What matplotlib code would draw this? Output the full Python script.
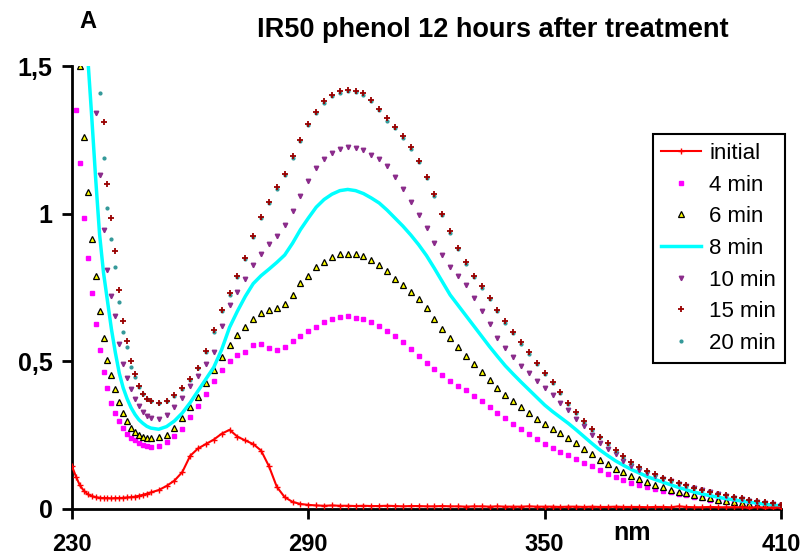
import matplotlib
matplotlib.use("Agg")
import matplotlib.pyplot as plt

# wavelengths: 1 nm steps on the steep edge, 2 nm after that
wavelength = list(range(230, 251)) + list(range(252, 411, 2))

initial = [0.145, 0.11, 0.08, 0.062, 0.05, 0.044, 0.04, 0.038, 0.037, 0.037, 0.036,
           0.037, 0.037, 0.038, 0.039, 0.04, 0.042, 0.045, 0.048, 0.052, 0.056,
           0.064, 0.078, 0.096, 0.125, 0.18, 0.205, 0.22, 0.235, 0.255, 0.268,
           0.245, 0.232, 0.22, 0.198, 0.145, 0.075, 0.04, 0.024, 0.017, 0.014,
           0.012, 0.011, 0.012, 0.011, 0.011, 0.010, 0.011, 0.010, 0.010, 0.011,
           0.010, 0.009, 0.010, 0.010, 0.009, 0.009, 0.010, 0.009, 0.009, 0.008,
           0.009, 0.009, 0.008, 0.009, 0.008, 0.008, 0.008, 0.009, 0.008, 0.008,
           0.008, 0.007, 0.008, 0.008, 0.007, 0.008, 0.007, 0.007, 0.008, 0.007,
           0.007, 0.007, 0.006, 0.007, 0.007, 0.006, 0.009, 0.007, 0.006, 0.006,
           0.007, 0.006, 0.006, 0.006, 0.006, 0.005, 0.006, 0.005, 0.005, 0.005]

min4 = [1.55, 1.35, 1.17, 0.985, 0.85, 0.73, 0.626, 0.537, 0.465, 0.41, 0.36,
        0.325, 0.298, 0.275, 0.255, 0.242, 0.232, 0.224, 0.218, 0.213, 0.211,
        0.213, 0.226, 0.248, 0.272, 0.31, 0.35, 0.39, 0.435, 0.47, 0.5,
        0.52, 0.533, 0.555, 0.56, 0.545, 0.538, 0.548, 0.568, 0.587, 0.603,
        0.617, 0.632, 0.642, 0.65, 0.652, 0.648, 0.642, 0.632, 0.618, 0.602,
        0.585, 0.565, 0.542, 0.518, 0.496, 0.474, 0.455, 0.435, 0.418, 0.402,
        0.384, 0.366, 0.346, 0.326, 0.307, 0.289, 0.271, 0.254, 0.237, 0.221,
        0.207, 0.194, 0.182, 0.17, 0.157, 0.144, 0.132, 0.12, 0.108, 0.097,
        0.088, 0.08, 0.073, 0.067, 0.061, 0.056, 0.051, 0.046, 0.041, 0.036,
        0.032, 0.028, 0.024, 0.02, 0.017, 0.015, 0.013, 0.011, 0.009, 0.008]

min6 = [1.9, 1.72, 1.5, 1.26, 1.075, 0.915, 0.79, 0.67, 0.58, 0.505, 0.455,
        0.405, 0.362, 0.325, 0.297, 0.275, 0.26, 0.25, 0.244, 0.241, 0.24,
        0.243, 0.252, 0.275, 0.308, 0.345, 0.38, 0.425, 0.47, 0.516, 0.555,
        0.59, 0.615, 0.645, 0.665, 0.675, 0.682, 0.695, 0.725, 0.765, 0.79,
        0.818, 0.838, 0.852, 0.862, 0.865, 0.862, 0.855, 0.842, 0.826, 0.805,
        0.78, 0.758, 0.735, 0.712, 0.68, 0.645, 0.61, 0.578, 0.548, 0.518,
        0.49, 0.463, 0.436, 0.41, 0.386, 0.364, 0.344, 0.324, 0.305, 0.288,
        0.272, 0.256, 0.24, 0.222, 0.204, 0.185, 0.166, 0.151, 0.137, 0.124,
        0.112, 0.101, 0.091, 0.082, 0.074, 0.066, 0.059, 0.053, 0.047, 0.041,
        0.036, 0.032, 0.028, 0.025, 0.021, 0.018, 0.015, 0.012, 0.01, 0.009]

min8 = [2.6, 2.3, 2.0, 1.75, 1.53, 1.33, 1.12, 0.93, 0.8, 0.705, 0.61,
        0.53, 0.46, 0.41, 0.373, 0.343, 0.32, 0.302, 0.29, 0.28, 0.274,
        0.27, 0.279, 0.298, 0.325, 0.36, 0.4, 0.44, 0.48, 0.54, 0.615,
        0.67, 0.72, 0.763, 0.79, 0.812, 0.835, 0.86, 0.9, 0.946, 0.985,
        1.022, 1.048, 1.066, 1.078, 1.082, 1.078, 1.068, 1.053, 1.036, 1.012,
        0.985, 0.958, 0.928, 0.895, 0.858, 0.815, 0.77, 0.725, 0.69, 0.655,
        0.62, 0.585, 0.55, 0.517, 0.485, 0.457, 0.43, 0.404, 0.378, 0.352,
        0.33, 0.31, 0.29, 0.268, 0.245, 0.222, 0.2, 0.181, 0.163, 0.148,
        0.134, 0.122, 0.11, 0.1, 0.091, 0.082, 0.073, 0.065, 0.057, 0.051,
        0.045, 0.04, 0.035, 0.031, 0.027, 0.023, 0.02, 0.016, 0.013, 0.011]

min10 = [2.4, 2.2, 2.0, 1.82, 1.66, 1.52, 1.34, 1.13, 0.946, 0.81, 0.72,
         0.655, 0.56, 0.49, 0.445, 0.405, 0.372, 0.348, 0.33, 0.316, 0.309,
         0.305, 0.318, 0.345, 0.375, 0.415, 0.452, 0.49, 0.53, 0.62, 0.69,
         0.735, 0.78, 0.825, 0.865, 0.897, 0.925, 0.96, 1.01, 1.06, 1.11,
         1.155, 1.185, 1.205, 1.218, 1.225, 1.222, 1.214, 1.2, 1.185, 1.16,
         1.125, 1.085, 1.04, 0.995, 0.95, 0.9, 0.86, 0.82, 0.79, 0.757,
         0.715, 0.67, 0.625, 0.58, 0.545, 0.515, 0.485, 0.46, 0.435, 0.41,
         0.385, 0.36, 0.335, 0.305, 0.28, 0.25, 0.225, 0.204, 0.185, 0.163,
         0.146, 0.133, 0.122, 0.111, 0.102, 0.094, 0.086, 0.078, 0.07, 0.063,
         0.056, 0.05, 0.044, 0.038, 0.033, 0.028, 0.024, 0.02, 0.016, 0.013]

min15 = [2.9, 2.7, 2.5, 2.3, 2.1, 1.95, 1.78, 1.56, 1.31, 1.1, 0.985,
         0.875, 0.74, 0.635, 0.57, 0.5, 0.458, 0.415, 0.39, 0.373, 0.365,
         0.36, 0.367, 0.385, 0.41, 0.44, 0.478, 0.535, 0.605, 0.675, 0.73,
         0.79, 0.85, 0.925, 0.99, 1.04, 1.09, 1.135, 1.195, 1.25, 1.305,
         1.345, 1.38, 1.402, 1.415, 1.42, 1.416, 1.408, 1.385, 1.355, 1.325,
         1.295, 1.262, 1.225, 1.18, 1.125, 1.065, 1.0, 0.94, 0.885, 0.835,
         0.79, 0.755, 0.715, 0.675, 0.635, 0.6, 0.565, 0.53, 0.495, 0.462,
         0.43, 0.395, 0.36, 0.328, 0.298, 0.27, 0.245, 0.222, 0.2, 0.178,
         0.158, 0.143, 0.13, 0.118, 0.106, 0.097, 0.088, 0.08, 0.072, 0.065,
         0.058, 0.052, 0.047, 0.042, 0.037, 0.032, 0.028, 0.023, 0.019, 0.015]

min20 = [2.7, 2.5, 2.3, 2.1, 1.95, 1.8, 1.65, 1.41, 1.19, 1.02, 0.915,
         0.82, 0.7, 0.6, 0.55, 0.48, 0.448, 0.412, 0.388, 0.372, 0.364,
         0.359, 0.366, 0.384, 0.408, 0.438, 0.476, 0.532, 0.6, 0.67, 0.726,
         0.786, 0.846, 0.92, 0.985, 1.035, 1.085, 1.13, 1.19, 1.245, 1.3,
         1.34, 1.375, 1.397, 1.41, 1.415, 1.412, 1.403, 1.38, 1.35, 1.315,
         1.29, 1.257, 1.22, 1.175, 1.12, 1.06, 0.995, 0.935, 0.88, 0.83,
         0.786, 0.75, 0.71, 0.67, 0.63, 0.595, 0.56, 0.526, 0.491, 0.458,
         0.426, 0.392, 0.357, 0.325, 0.295, 0.268, 0.243, 0.22, 0.198, 0.176,
         0.156, 0.141, 0.128, 0.116, 0.105, 0.096, 0.087, 0.079, 0.071, 0.064,
         0.057, 0.051, 0.046, 0.041, 0.036, 0.031, 0.027, 0.022, 0.018, 0.014]

x_ticks = [230, 290, 350, 410]
y_ticks = [0, 0.5, 1, 1.5]
y_tick_labels = ["0", "0,5", "1", "1,5"]

plt.rcParams["font.family"] = ["Liberation Sans", "DejaVu Sans"]

fig = plt.figure(figsize=(8.06, 5.59), dpi=100)
ax = fig.add_axes([72 / 806, 1 - 509 / 559, (781 - 72) / 806, (509 - 66) / 559])

ax.plot(wavelength, initial, color="#ff0000", lw=1.5, marker="+", ms=4, mew=1, label="initial", zorder=3)
ax.plot(wavelength, min4, ls="none", marker="s", ms=3.2, color="#ff00ff", label="4 min")
ax.plot(wavelength, min6, ls="none", marker="^", ms=4.8, mfc="#ffff00", mec="black", mew=0.9, label="6 min")
ax.plot(wavelength, min8, color="#00ffff", lw=2.5, label="8 min")
ax.plot(wavelength, min10, ls="none", marker="v", ms=3.2, color="#8b2c8b", label="10 min")
ax.plot(wavelength, min15, ls="none", marker="+", ms=4.5, mew=1.3, color="#990000", label="15 min", zorder=4)
ax.plot(wavelength, min20, ls="none", marker=".", ms=4, color="#339999", label="20 min", zorder=3.5)

ax.set_xlim(230, 410)
ax.set_ylim(0, 1.5)
ax.set_xticks(x_ticks)
ax.set_yticks(y_ticks)
ax.set_yticklabels(y_tick_labels)
for s in ["top", "right"]:
    ax.spines[s].set_visible(False)
for s in ["left", "bottom"]:
    ax.spines[s].set_linewidth(2)
ax.tick_params(axis="both", direction="out", length=7, width=2)
ax.tick_params(axis="x", pad=10.5, labelsize=17)
ax.tick_params(axis="y", pad=7, labelsize=18)
for lab in ax.get_xticklabels() + ax.get_yticklabels():
    lab.set_fontweight("bold")

leg = ax.legend(loc="upper right", bbox_to_anchor=(785 / 806, 1 - 134 / 559),
                bbox_transform=fig.transFigure, fontsize=16, frameon=True,
                fancybox=False, edgecolor="black", framealpha=1, borderaxespad=0,
                numpoints=1, handlelength=1.8, handletextpad=0.35,
                labelspacing=0.48, borderpad=0.4)
leg.get_frame().set_linewidth(1.5)

fig.text(493 / 806, 1 - 30 / 559, "IR50 phenol 12 hours after treatment",
         ha="center", va="center", fontsize=19.5, fontweight="bold")
fig.text(88 / 806, 1 - 21 / 559, "A", ha="center", va="center", fontsize=17, fontweight="bold")
fig.text(632 / 806, 1 - 533 / 559, "nm", ha="center", va="center", fontsize=18, fontweight="bold")

fig.savefig("out.png", dpi=100)
